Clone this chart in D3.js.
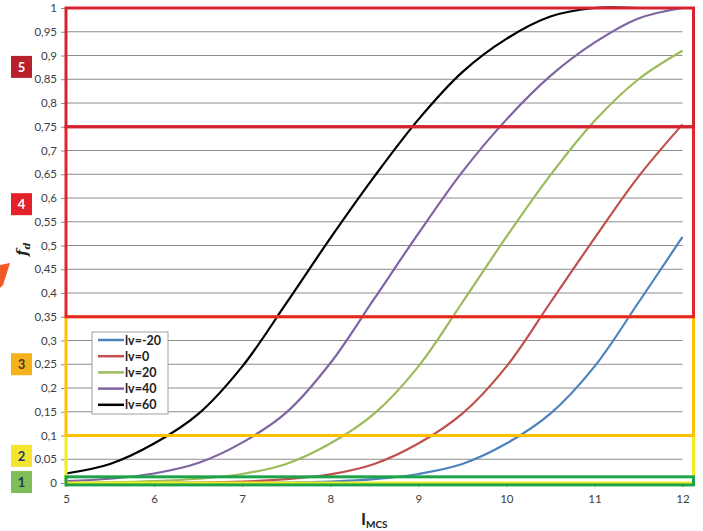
<!DOCTYPE html>
<html><head><meta charset="utf-8">
<script src="https://cdn.jsdelivr.net/npm/d3@7/dist/d3.min.js"></script>
<style>
html,body{margin:0;padding:0;background:#fff;}
svg{display:block;font-family:Lato,"Open Sans",sans-serif;}
</style></head>
<body>
<svg id="chart" width="703" height="531"></svg>
<script>
// ---- data ----
const imcs = [5,5.5,6,6.5,7,7.5,8,8.5,9,9.5,10,10.5,11,11.5,12];
const seriesNames = ["lv=-20","lv=0","lv=20","lv=40","lv=60"];
const lvMinus20 = [0,0,0,0,0.0005,0.001,0.003,0.008,0.019,0.04,0.083,0.146,0.245,0.38,0.518];
const lv0      = [0,0,0.0005,0.001,0.003,0.008,0.018,0.04,0.083,0.146,0.245,0.38,0.515,0.645,0.755];
const lv20     = [0.0005,0.0015,0.004,0.009,0.019,0.04,0.083,0.146,0.245,0.38,0.518,0.648,0.762,0.85,0.91];
const lv40     = [0.004,0.009,0.02,0.042,0.085,0.148,0.252,0.388,0.525,0.655,0.765,0.857,0.927,0.978,1];
const lv60     = [0.02,0.04,0.083,0.145,0.245,0.378,0.515,0.645,0.765,0.865,0.935,0.982,1,1,1];
const seriesValues = [lvMinus20, lv0, lv20, lv40, lv60];
const seriesColors = ["#4f81bd","#c0504d","#9bbb59","#8064a2","#000000"];
const yTicks = [0,0.05,0.1,0.15,0.2,0.25,0.3,0.35,0.4,0.45,0.5,0.55,0.6,0.65,0.7,0.75,0.8,0.85,0.9,0.95,1];
const xTicks = [5,6,7,8,9,10,11,12];
// risk levels (fd ranges)
const levelNames = ["1","2","3","4","5"];
const levelLow  = [-0.004,0,0.1,0.35,0.75];
const levelHigh = [0.013,0.1,0.35,0.75,1];
const levelColors = ["#1ea34a","#eeee22","#ffc000","#e3262b","#d42430"];
const badgeFill = ["#7fbd58","#f4e531","#f6b21d","#e42129","#b8202c"];
const badgeText = ["#203864","#203864","#4a3b20","#ffffff","#ffffff"];
const badgeCenter = [0.002,0.057,0.25,0.587,0.876];

// ---- drawing ----
const svg = d3.select("#chart");
const x = d3.scaleLinear().domain([5,12]).range([66,682.5]);
const y = d3.scaleLinear().domain([0,1]).range([483,8]);
const xBoxRight = 12.125;

// gridlines
svg.append("g").selectAll("line").data(yTicks).join("line")
  .attr("x1", x(5)).attr("x2", x(12))
  .attr("y1", d=>y(d)).attr("y2", d=>y(d))
  .attr("stroke","#8c8c8c").attr("stroke-width",1);

// y axis
const yAxis = d3.axisLeft(y).tickValues(yTicks).tickSize(5).tickPadding(4)
  .tickFormat(d=>d3.format(".2~f")(d).replace(".",","));
const gy = svg.append("g").attr("transform",`translate(${x(5)},0)`).call(yAxis);
gy.select(".domain").attr("stroke","#8c8c8c");
gy.selectAll(".tick line").attr("stroke","#8c8c8c");
gy.selectAll(".tick text").attr("fill","#404040").style("font-size","11.5px").style("font-family","Lato, sans-serif");

// x axis
const xAxis = d3.axisBottom(x).tickValues(xTicks).tickSize(4).tickPadding(8).tickFormat(d3.format("d"));
const gx = svg.append("g").attr("transform",`translate(0,${y(0)})`).call(xAxis);
gx.select(".domain").attr("stroke","#8c8c8c");
gx.selectAll(".tick line").attr("stroke","#8c8c8c");
gx.selectAll(".tick text").attr("fill","#404040").style("font-size","11.5px").style("font-family","Lato, sans-serif");

// curves
const line = d3.line().x((d,i)=>x(imcs[i])).y(d=>y(Math.min(d,1))).curve(d3.curveCatmullRom.alpha(0.5));
svg.append("g").selectAll("path").data(seriesValues).join("path")
  .attr("d", d=>line(d)).attr("fill","none")
  .attr("stroke",(d,i)=>seriesColors[i]).attr("stroke-width",2.2);

// level boxes (draw order: 2,3,4,5,1)
const order = [1,2,3,4,0];
svg.append("g").selectAll("rect").data(order).join("rect")
  .attr("x", x(5)).attr("width", x(xBoxRight)-x(5))
  .attr("y", i=>y(levelHigh[i])).attr("height", i=>y(levelLow[i])-y(levelHigh[i]))
  .attr("fill","none").attr("stroke", i=>levelColors[i]).attr("stroke-width",3);

// badges
const bg = svg.append("g").selectAll("g").data(levelNames).join("g")
  .attr("transform",(d,i)=>`translate(11,${y(badgeCenter[i])-11})`);
bg.append("rect").attr("width",21).attr("height",22).attr("fill",(d,i)=>badgeFill[i]);
bg.append("text").attr("x",10.5).attr("y",16).attr("text-anchor","middle")
  .attr("fill",(d,i)=>badgeText[i]).style("font-size","13px").style("font-weight","bold")
  .text(d=>d);

// legend
const lg = svg.append("g").attr("transform","translate(92,332)");
lg.append("rect").attr("width",76).attr("height",82).attr("fill","#fff").attr("stroke","#a0a0a0").attr("stroke-width",1);
const li = lg.selectAll("g").data(seriesNames).join("g").attr("transform",(d,i)=>`translate(0,${8+i*16.2})`);
li.append("line").attr("x1",6).attr("x2",32).attr("stroke",(d,i)=>seriesColors[i]).attr("stroke-width",2.5);
li.append("text").attr("x",33).attr("y",4.5).style("font-size","12.5px").style("font-weight","bold").attr("fill","#222").text(d=>d);

// axis titles
const xt = svg.append("text").attr("x",361).attr("y",525).attr("fill","#222").style("font-weight","bold");
xt.append("tspan").style("font-size","17px").text("I");
xt.append("tspan").style("font-size","10px").attr("dy",3).text("MCS");

const yt = svg.append("text").attr("transform","translate(27,256) rotate(-90)")
  .style("font-family","'DejaVu Serif','Liberation Serif',serif").style("font-style","italic").style("font-weight","bold").attr("fill","#222");
yt.append("tspan").style("font-size","15px").text("f");
yt.append("tspan").style("font-size","10px").attr("dy",3).text("d");

// orange arrow fragment at left edge
svg.append("polygon").attr("points","0,265 10,263 3,285 0,288").attr("fill","#f15a24");
</script>
</body></html>
